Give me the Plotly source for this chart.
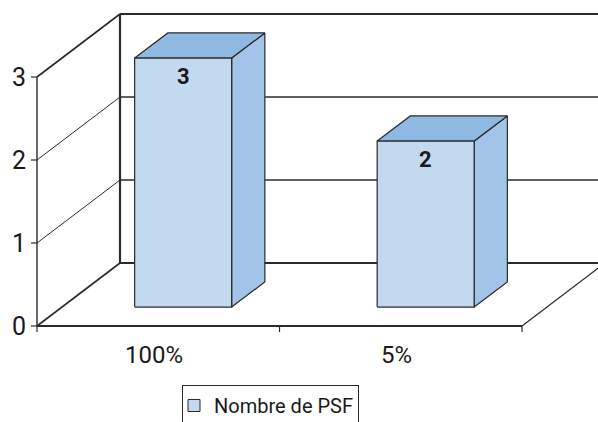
import plotly.graph_objects as go

# Chart data
categories = ["100%", "5%"]
psf_counts = [3, 2]
y_tick_values = [0, 1, 2, 3]
series_name = "Nombre de PSF"

# Page and projection geometry (pixels)
W, H = 598, 422
X0_PX, Y0_PX = 37, 326       # front-left corner of the floor
CAT_PX = 242.5               # width of one category on the front edge
UNIT_PX = 83                 # height of one value unit on the front plane
DX = 83 / CAT_PX             # depth offset of the back wall, x units
DY = 63 / UNIT_PX            # depth offset of the back wall, value units
YMAX = max(y_tick_values)
n = len(categories)

BAR_W = 0.4                  # bar width, in category units
D0, D1 = 0.3, 0.7            # bar depth span (0 = front, 1 = back wall)

FRONT = "#C3D9EF"
TOP = "#8DB9E3"
SIDE = "#A3C4E8"
EDGE = "#2a2a2a"
FONT = "Roboto, Liberation Sans, sans-serif"

fig = go.Figure()


def line(xs, ys, width=1.0, color="#2a2a2a"):
    fig.add_trace(go.Scatter(x=xs, y=ys, mode="lines",
                             line=dict(color=color, width=width),
                             hoverinfo="skip", showlegend=False))


def poly(pts, fill):
    xs = [p[0] for p in pts] + [pts[0][0]]
    ys = [p[1] for p in pts] + [pts[0][1]]
    fig.add_trace(go.Scatter(x=xs, y=ys, mode="lines", fill="toself",
                             fillcolor=fill, line=dict(color=EDGE, width=1.2),
                             hoverinfo="skip", showlegend=False))


# Walls: gridlines on the left wall (diagonals) and on the back wall
for v in y_tick_values:
    w = 1.6 if v in (0, YMAX) else 1.0
    line([0, DX], [v, v + DY], width=w)
    line([DX, n + DX], [v + DY, v + DY], width=2.0 if v in (0, YMAX) else 1.6)
line([DX, DX], [DY, YMAX + DY], width=2.2)

# Front value axis and floor edges
line([0, 0], [0, YMAX], width=1.4)
line([0, n], [0, 0], width=2.0)
line([n, n + DX], [0, DY], width=1.2)

# Tick marks
tick_x = 6 / CAT_PX
tick_y = 6 / UNIT_PX
for v in y_tick_values:
    line([-tick_x, 0], [v, v], width=1.2)
for i in range(n + 1):
    line([i, i], [0, -tick_y], width=1.2)

# 3-D bars
ox, oy = D0 * DX, D0 * DY
bx, by = D1 * DX, D1 * DY
annotations = []
for i, v in enumerate(psf_counts):
    cx = i + 0.5
    xa, xb = cx - BAR_W / 2, cx + BAR_W / 2
    poly([(xb + ox, oy), (xb + bx, by), (xb + bx, v + by), (xb + ox, v + oy)], SIDE)
    poly([(xa + ox, v + oy), (xb + ox, v + oy), (xb + bx, v + by), (xa + bx, v + by)], TOP)
    poly([(xa + ox, oy), (xb + ox, oy), (xb + ox, v + oy), (xa + ox, v + oy)], FRONT)
    annotations.append(dict(x=cx + ox, y=v + oy, text=f"<b>{v}</b>", showarrow=False,
                            xanchor="center", yanchor="top", yshift=-4,
                            font=dict(family=FONT, size=22, color="#1a1a1a")))
    annotations.append(dict(x=cx, y=0, text=categories[i], showarrow=False,
                            xanchor="center", yanchor="top", yshift=-13, xshift=-4,
                            font=dict(family=FONT, size=24, color="#1a1a1a")))

for v in y_tick_values:
    annotations.append(dict(x=0, y=v, text=str(v), showarrow=False,
                            xanchor="right", yanchor="middle", xshift=-9,
                            font=dict(family=FONT, size=25, color="#1a1a1a")))

# Legend entry
fig.add_trace(go.Bar(x=[None], y=[None], name=series_name, showlegend=True,
                     marker=dict(color=FRONT, line=dict(color=EDGE, width=1))))

fig.update_layout(
    width=W, height=H,
    margin=dict(l=0, r=0, t=0, b=0, autoexpand=False),
    paper_bgcolor="white", plot_bgcolor="white",
    xaxis=dict(visible=False, range=[-X0_PX / CAT_PX, (W - X0_PX) / CAT_PX], fixedrange=True),
    yaxis=dict(visible=False, range=[(Y0_PX - H) / UNIT_PX, Y0_PX / UNIT_PX], fixedrange=True),
    annotations=annotations,
    hovermode=False,
    showlegend=True,
    legend=dict(x=182 / W, y=1 - 385 / H, xanchor="left", yanchor="top",
                indentation=-9,
                bordercolor="#2a2a2a", borderwidth=1, bgcolor="white",
                font=dict(family=FONT, size=20, color="#1a1a1a")),
)

fig.write_html("out.html")
